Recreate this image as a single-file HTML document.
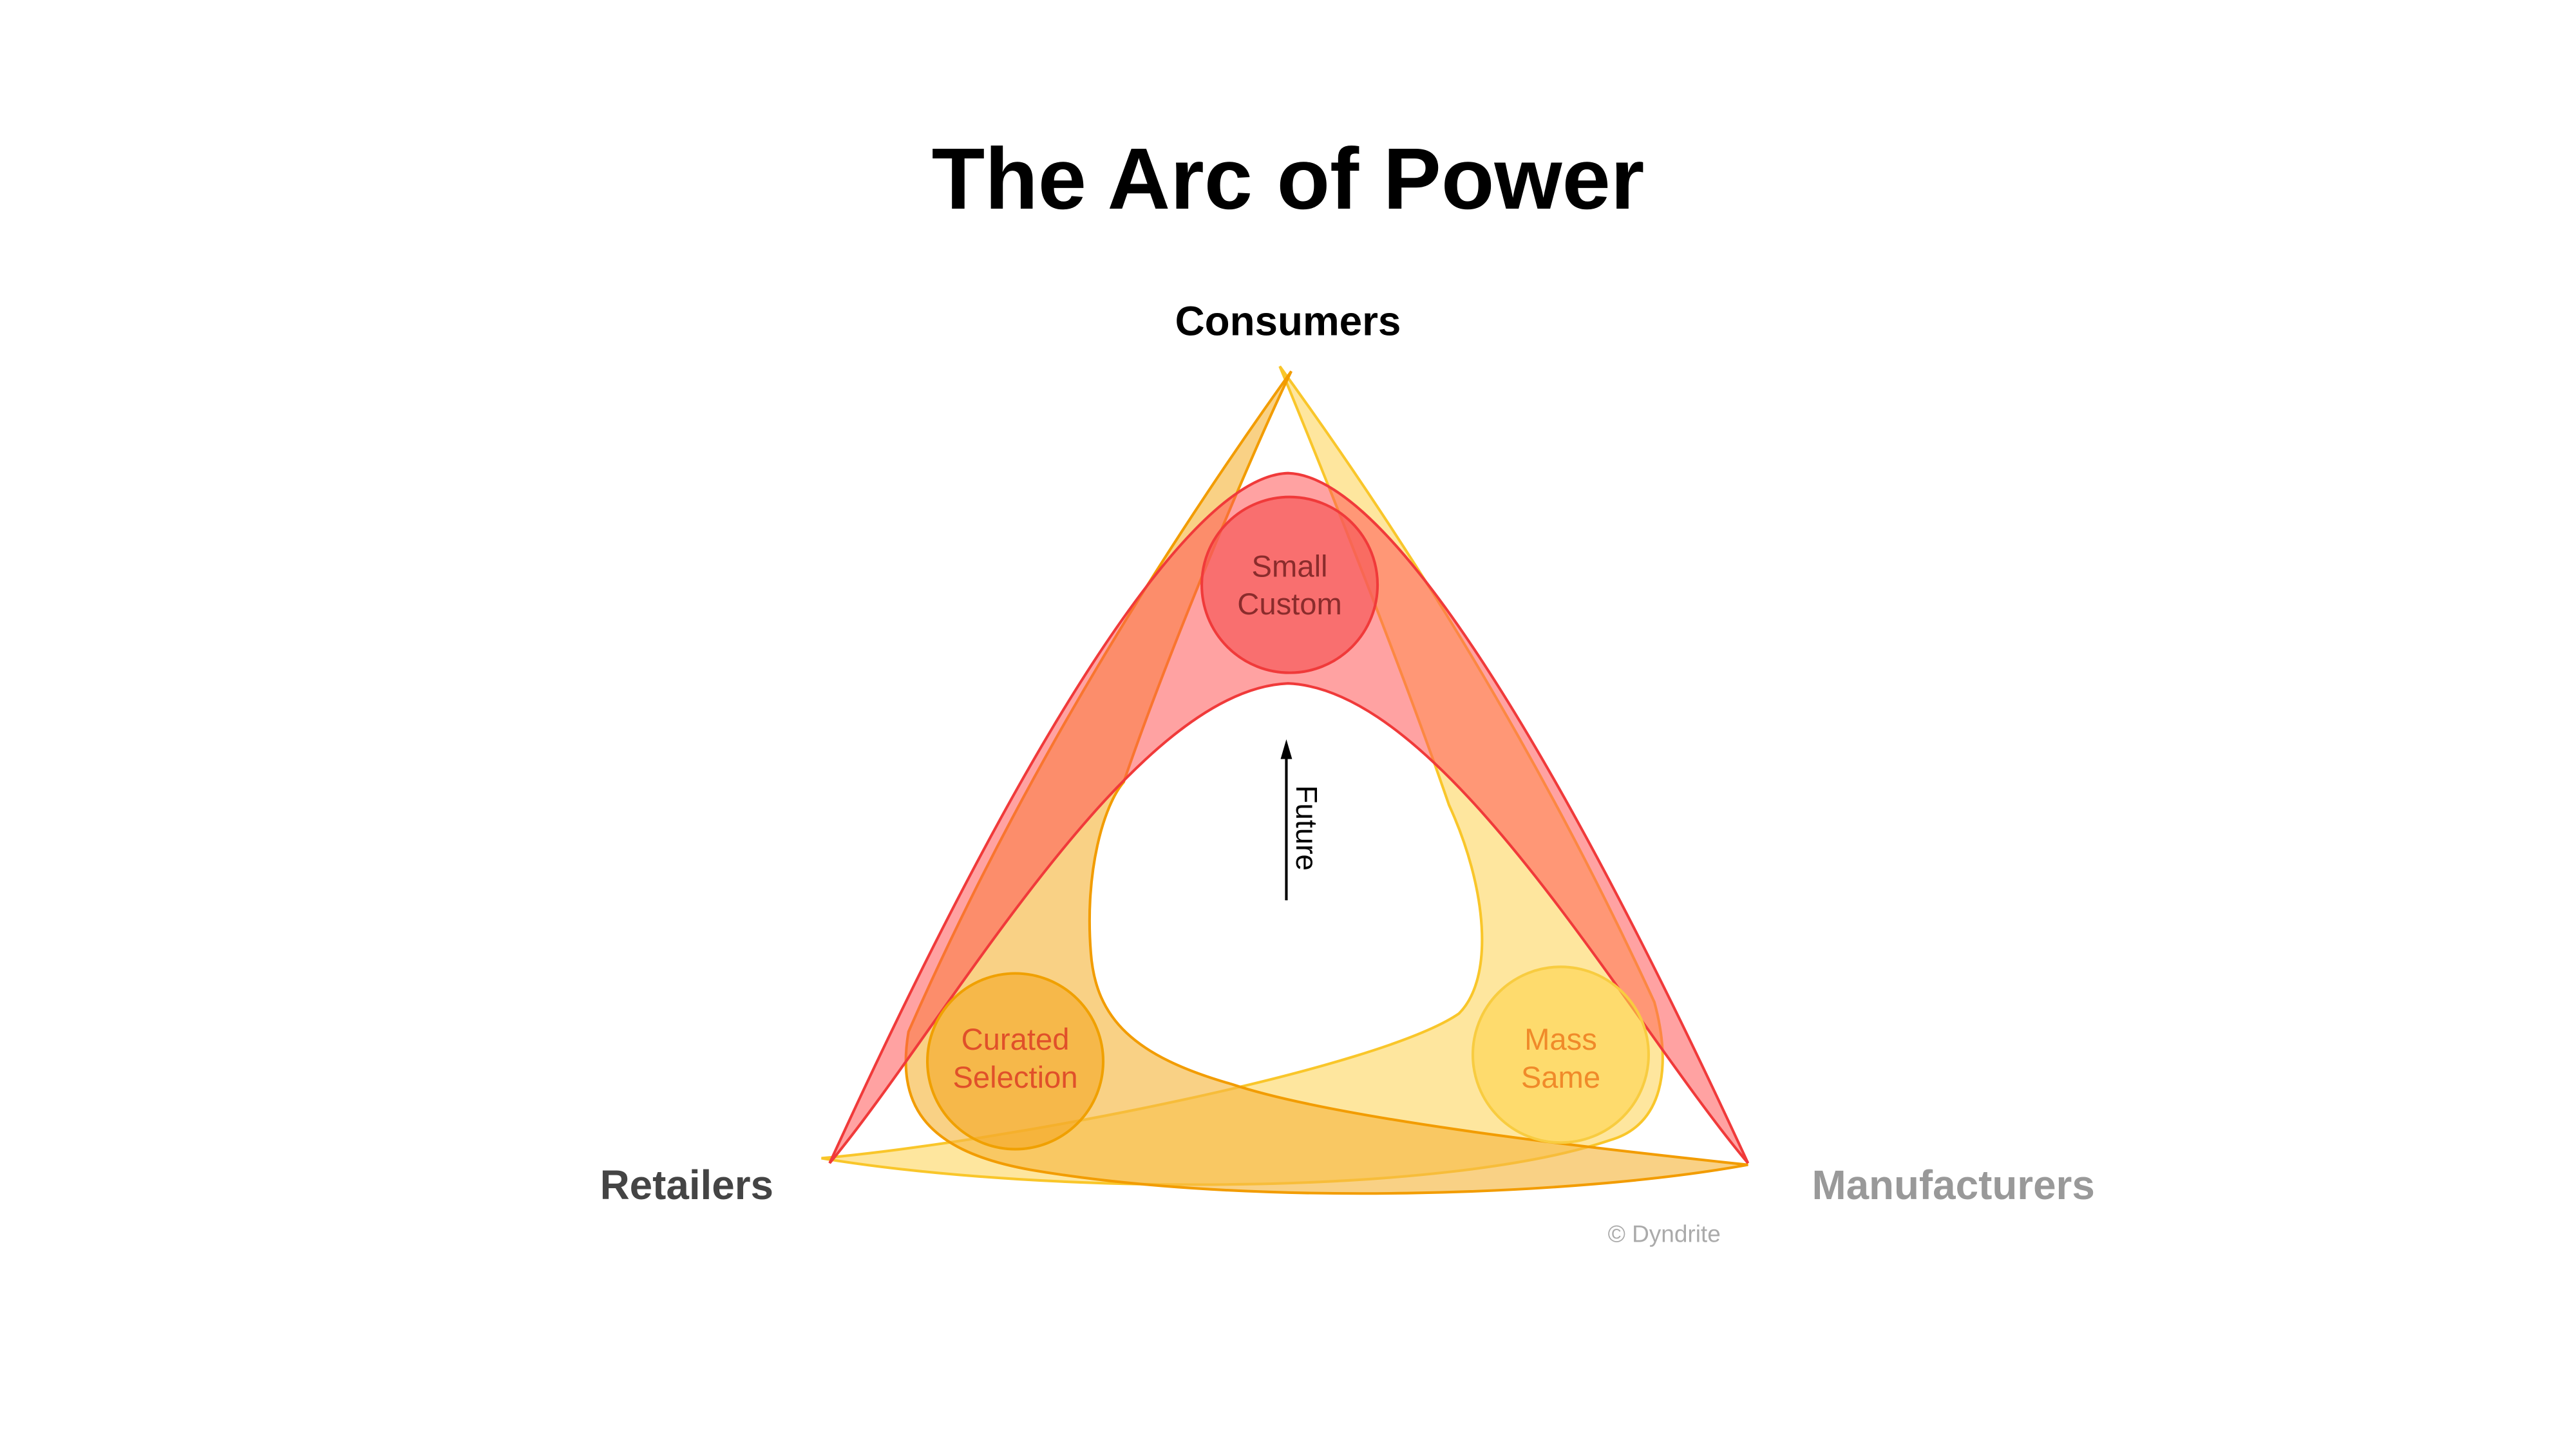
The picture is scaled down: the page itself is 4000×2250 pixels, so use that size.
<!DOCTYPE html>
<html><head><meta charset="utf-8"><style>
html,body{margin:0;padding:0;background:#fff;width:4000px;height:2250px;overflow:hidden}
svg{display:block}
text{font-family:"Liberation Sans","DejaVu Sans",sans-serif}
</style></head><body>
<svg width="4000" height="2250" viewBox="0 0 1568 882" xmlns="http://www.w3.org/2000/svg">
<rect width="1568" height="882" fill="#fff"/>
<text x="784" y="127" text-anchor="middle" font-size="53" font-weight="bold" fill="#000">The Arc of Power</text>
<text x="784" y="204" text-anchor="middle" font-size="25" font-weight="bold" fill="#000">Consumers</text>
<text x="418" y="730" text-anchor="middle" font-size="25" font-weight="bold" fill="#444">Retailers</text>
<text x="1189" y="730" text-anchor="middle" font-size="25" font-weight="bold" fill="#999">Manufacturers</text>
<text x="1013" y="756" text-anchor="middle" font-size="14.5" fill="#aaa">© Dyndrite</text>

<path d="M779,223 Q915,410 1007,610 C1018,650 1012,685 980,694 C880,728 640,728 500,705 C620,694 840,650 888,617 C910,595 905,540 882,490 C858,420 815,310 779,223 Z"
 fill="#fdd96a" fill-opacity="0.65" stroke="#f9c62a" stroke-width="1.6"/>
<path d="M786,226 Q640,430 553,628 C546,670 560,700 627,712 C760,735 960,728 1064,709 C950,697 810,680 750,660 C690,643 667,620 664,580 C660,530 672,490 684,476 C710,400 760,280 786,226 Z"
 fill="#f6b844" fill-opacity="0.65" stroke="#f29c00" stroke-width="1.6"/>
<path d="M505,708 C600,500 715,290 784,288 C853,290 968,500 1064,708 C990,620 880,420 784,416 C688,420 578,620 505,708 Z"
 fill="#f55" fill-opacity="0.55" stroke="#f03a3a" stroke-width="1.6"/>

<circle cx="785" cy="356" r="53.5" fill="#f65a5a" fill-opacity="0.7" stroke="#f03a3a" stroke-width="1.6"/>
<text x="785" y="351" text-anchor="middle" font-size="18.5" fill="#8a2c2c">Small</text>
<text x="785" y="374" text-anchor="middle" font-size="18.5" fill="#8a2c2c">Custom</text>

<circle cx="618" cy="646" r="53.5" fill="#f4a623" fill-opacity="0.6" stroke="#f0a000" stroke-width="1.6"/>
<text x="618" y="639" text-anchor="middle" font-size="18.5" fill="#e0502a">Curated</text>
<text x="618" y="662" text-anchor="middle" font-size="18.5" fill="#e0502a">Selection</text>

<circle cx="950" cy="642" r="53.5" fill="#fdd34c" fill-opacity="0.6" stroke="#f8cc40" stroke-width="1.6"/>
<text x="950" y="639" text-anchor="middle" font-size="18.5" fill="#f08a2a">Mass</text>
<text x="950" y="662" text-anchor="middle" font-size="18.5" fill="#f08a2a">Same</text>

<line x1="783" y1="548" x2="783" y2="460" stroke="#000" stroke-width="1.6"/>
<polygon points="783,450 779.5,462 786.5,462" fill="#000"/>
<text x="0" y="0" font-size="18" fill="#000" transform="translate(789,478) rotate(90)">Future</text>
</svg>
</body></html>
